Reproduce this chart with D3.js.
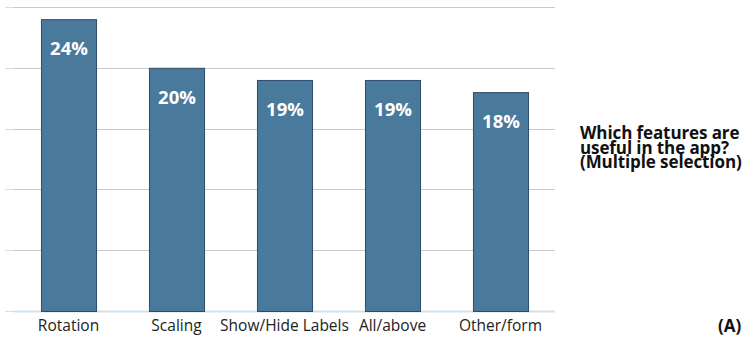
<!DOCTYPE html>
<html>
<head>
<meta charset="utf-8">
<script src="https://cdn.jsdelivr.net/npm/d3@7"></script>
<style>
  body { margin: 0; background: #fff; }
  svg { display: block; font-family: "Open Sans", sans-serif; }
</style>
</head>
<body>
<svg id="chart"></svg>
<script>
// data
var categories = ["Rotation", "Scaling", "Show/Hide Labels", "All/above", "Other/form"];
var values = [24, 20, 19, 19, 18];
var yTicks = [0, 5, 10, 15, 20, 25];
var titleLines = ["Which features are", "useful in the app?", "(Multiple selection)"];

var W = 754, H = 337;
var svg = d3.select("#chart").attr("width", W).attr("height", H);

var x = d3.scaleBand().domain(categories)
  .range([14.5, 554.5])
  .paddingInner(0.49)
  .paddingOuter(0.245);
var y = d3.scaleLinear().domain([0, 25]).range([311, 7]);

// gridlines + small left stubs
var grid = svg.append("g");
grid.selectAll("line.g")
  .data(yTicks.slice(1))
  .join("line").attr("class", "g")
  .attr("x1", 14).attr("x2", 555)
  .attr("y1", d => Math.round(y(d)) + 0.5).attr("y2", d => Math.round(y(d)) + 0.5)
  .attr("stroke", "#c9c9c9").attr("stroke-width", 1);
grid.selectAll("line.s")
  .data(yTicks)
  .join("line").attr("class", "s")
  .attr("x1", 5).attr("x2", 14)
  .attr("y1", d => Math.round(y(d)) + 0.5).attr("y2", d => Math.round(y(d)) + 0.5)
  .attr("stroke", "#d3e1ee").attr("stroke-width", 1);

// baseline
svg.append("line")
  .attr("x1", 14).attr("x2", 555)
  .attr("y1", y(0) + 0.5).attr("y2", y(0) + 0.5)
  .attr("stroke", "#d3e1ee").attr("stroke-width", 2);

// bars
svg.append("g").selectAll("rect")
  .data(values)
  .join("rect")
  .attr("x", (d, i) => x(categories[i]) + 0.5)
  .attr("y", d => y(d) + 0.5)
  .attr("width", x.bandwidth())
  .attr("height", d => y(0) - y(d))
  .attr("fill", "#4a7a9b")
  .attr("stroke", "#2d4d6c").attr("stroke-width", 1);

// value labels
svg.append("g").selectAll("text")
  .data(values)
  .join("text")
  .attr("x", (d, i) => x(categories[i]) + x.bandwidth() / 2 + 0.5)
  .attr("y", d => y(d) + 36)
  .attr("text-anchor", "middle")
  .attr("fill", "#fff")
  .style("font-weight", "bold").style("font-size", "18.5px")
  .text(d => d + "%");

// category axis
var xAxis = svg.append("g")
  .attr("transform", "translate(0," + y(0) + ")")
  .call(d3.axisBottom(x).tickSize(0).tickPadding(9));
xAxis.select(".domain").remove();
xAxis.selectAll("text")
  .attr("fill", "#222")
  .style("font-family", "Open Sans, sans-serif")
  .style("font-size", "15.5px");

// side title
svg.append("text")
  .attr("x", 580).attr("y", 139)
  .style("font-weight", "bold").style("font-size", "17px")
  .style("letter-spacing", "-0.1px")
  .attr("fill", "#111")
  .selectAll("tspan")
  .data(titleLines)
  .join("tspan")
  .attr("x", 580)
  .attr("dy", (d, i) => i == 0 ? 0 : 14.5)
  .text(d => d);

svg.append("text")
  .attr("x", 718).attr("y", 332)
  .style("font-weight", "bold").style("font-size", "17px")
  .attr("fill", "#111")
  .text("(A)");
</script>
</body>
</html>
